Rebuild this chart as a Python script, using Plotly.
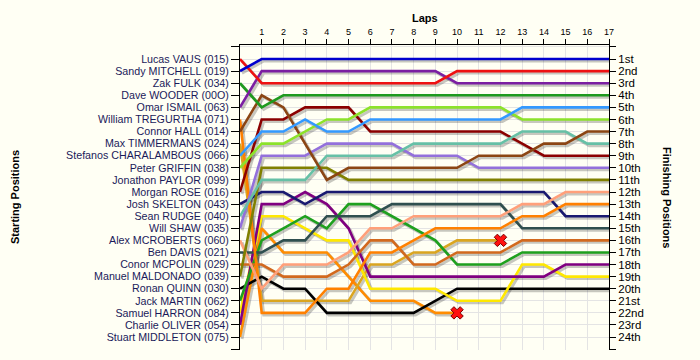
import plotly.graph_objects as go

laps = list(range(0, 18))

start_names = [
    "Lucas VAUS (015)", "Sandy MITCHELL (019)", "Zak FULK (034)", "Dave WOODER (00O)",
    "Omar ISMAIL (063)", "William TREGURTHA (071)", "Connor HALL (014)", "Max TIMMERMANS (024)",
    "Stefanos CHARALAMBOUS (066)", "Peter GRIFFIN (038)", "Jonathon PAYLOR (099)", "Morgan ROSE (016)",
    "Josh SKELTON (043)", "Sean RUDGE (040)", "Will SHAW (035)", "Alex MCROBERTS (060)",
    "Ben DAVIS (021)", "Conor MCPOLIN (029)", "Manuel MALDONADO (039)", "Ronan QUINN (030)",
    "Jack MARTIN (062)", "Samuel HARRON (084)", "Charlie OLIVER (054)", "Stuart MIDDLETON (075)",
]
finish_labels = [
    "1st", "2nd", "3rd", "4th", "5th", "6th", "7th", "8th", "9th", "10th", "11th", "12th",
    "13th", "14th", "15th", "16th", "17th", "18th", "19th", "20th", "21st", "22nd", "23rd", "24th",
]

# positions by lap (index = lap number)
vaus = [1, 3, 3, 3, 3, 3, 3, 3, 3, 3, 2, 2, 2, 2, 2, 2, 2, 2]
mitchell = [2, 1, 1, 1, 1, 1, 1, 1, 1, 1, 1, 1, 1, 1, 1, 1, 1, 1]
fulk = [3, 5, 4, 4, 4, 4, 4, 4, 4, 4, 4, 4, 4, 4, 4, 4, 4, 4]
wooder = [4]
ismail = [5, 2, 2, 2, 2, 2, 2, 2, 2, 2, 3, 3, 3, 3, 3, 3, 3, 3]
tregurtha = [6, 22, 22, 22, 20, 20, 17, 17, 16, 15, 15, 15, 15, 14, 14, 13, 13, 13]
hall = [7, 4, 5, 8, 11, 10, 10, 10, 10, 10, 10, 9, 9, 9, 8, 8, 7, 7]
timmermans = [8, 21, 21, 21, 21, 21, 18, 18, 17, 17, 16, 16, 16]
charalambous = [9, 7, 7, 6, 7, 7, 6, 6, 6, 6, 6, 6, 6, 5, 5, 5, 5, 5]
griffin = [10, 8, 8, 7, 6, 6, 5, 5, 5, 5, 5, 5, 5, 6, 6, 6, 6, 6]
paylor = [11]
rose = [12, 6, 6, 5, 5, 5, 7, 7, 7, 7, 7, 7, 7, 8, 9, 9, 9, 9]
skelton = [13, 12, 12, 13, 12, 12, 12, 12, 12, 12, 12, 12, 12, 12, 12, 14, 14, 14]
rudge = [14, 11, 11, 11, 9, 9, 9, 9, 8, 8, 8, 8, 8, 7, 7, 7, 8, 8]
shaw = [15, 9, 9, 9, 8, 8, 8, 8, 9, 9, 9, 10, 10, 10, 10, 10, 10, 10]
mcroberts = [16, 20, 18, 18, 18, 17, 15, 15, 14, 14, 14, 14, 14, 13, 13, 12, 12, 12]
davis = [17, 17, 16, 16, 14, 14, 14, 13, 13, 13, 13, 13, 13, 15, 15, 15, 15, 15]
mcpolin = [18, 18, 19, 19, 19, 18, 16, 16, 18, 18, 17, 17, 17, 16, 16, 16, 16, 16]
maldonado = [19, 10, 10, 10, 10, 11, 11, 11, 11, 11, 11, 11, 11, 11, 11, 11, 11, 11]
quinn = [20, 19, 20, 20, 22, 22, 22, 22, 22, 21, 20, 20, 20, 20, 20, 20, 20, 20]
martin = [21, 16, 15, 14, 15, 13, 13, 14, 15, 16, 18, 18, 18, 17, 17, 17, 17, 17]
harron = [22, 14, 14, 15, 16, 16, 20, 20, 20, 20, 21, 21, 21, 18, 18, 19, 19, 19]
oliver = [23, 13, 13, 12, 13, 15, 19, 19, 19, 19, 19, 19, 19, 19, 19, 18, 18, 18]
middleton = [24, 15, 17, 17, 17, 19, 21, 21, 21, 22, 22]

retired = ["Max TIMMERMANS (024)", "Stuart MIDDLETON (075)"]

drivers = [
    ("Stuart MIDDLETON (075)", middleton, "#FF8C00"),
    ("Max TIMMERMANS (024)", timmermans, "#DAA520"),
    ("Dave WOODER (00O)", wooder, "#999999"),
    ("Jonathon PAYLOR (099)", paylor, "#999999"),
    ("Ronan QUINN (030)", quinn, "#000000"),
    ("Samuel HARRON (084)", harron, "#FFE800"),
    ("Charlie OLIVER (054)", oliver, "#800080"),
    ("Jack MARTIN (062)", martin, "#1EA01E"),
    ("Conor MCPOLIN (029)", mcpolin, "#D2691E"),
    ("Ben DAVIS (021)", davis, "#2F4F4F"),
    ("Josh SKELTON (043)", skelton, "#191970"),
    ("William TREGURTHA (071)", tregurtha, "#FF8000"),
    ("Alex MCROBERTS (060)", mcroberts, "#FFA07A"),
    ("Manuel MALDONADO (039)", maldonado, "#808000"),
    ("Will SHAW (035)", shaw, "#9370DB"),
    ("Morgan ROSE (016)", rose, "#8B0000"),
    ("Sean RUDGE (040)", rudge, "#66C0A6"),
    ("Connor HALL (014)", hall, "#8B4513"),
    ("Peter GRIFFIN (038)", griffin, "#8CE22A"),
    ("Stefanos CHARALAMBOUS (066)", charalambous, "#3399FF"),
    ("Zak FULK (034)", fulk, "#1E9A1E"),
    ("Omar ISMAIL (063)", ismail, "#7B1FA2"),
    ("Lucas VAUS (015)", vaus, "#EE1111"),
    ("Sandy MITCHELL (019)", mitchell, "#0000CD"),
]

W, H = 700, 360
ML, MR, MT, MB = 240, 91, 45, 10
pw = W - ML - MR
ph = H - MT - MB
xr = [0, 17]
yr = [25.07, -0.16]
sx = (xr[1] - xr[0]) / pw * 2.0
sy = (yr[0] - yr[1]) / ph * 2.0
bg = "#FFFFF4"
font = "Liberation Sans"

fig = go.Figure()

# shadows on base axes (shifted 2px right/down)
for name, pos, col in drivers:
    fig.add_trace(go.Scatter(x=laps[:len(pos)], y=pos, mode="lines", xaxis="x", yaxis="y",
                             line=dict(color="rgba(0,0,0,0.22)", width=3), hoverinfo="skip",
                             showlegend=False))
# main lines
for name, pos, col in drivers:
    fig.add_trace(go.Scatter(x=laps[:len(pos)], y=pos, mode="lines", xaxis="x2", yaxis="y3",
                             line=dict(color=col, width=2.6), name=name, showlegend=False))
# retirement markers
rx, ry = [], []
for name, pos, col in drivers:
    if name in retired:
        rx.append(laps[len(pos) - 1])
        ry.append(pos[-1])
fig.add_trace(go.Scatter(x=rx, y=ry, mode="markers", xaxis="x2", yaxis="y3",
                         marker=dict(symbol="x", size=11, color="#FF1010",
                                     line=dict(color="#7a0000", width=1)),
                         showlegend=False, hoverinfo="skip"))
# dummy trace for right axis
fig.add_trace(go.Scatter(x=[None], y=[None], xaxis="x2", yaxis="y2", showlegend=False))

tick_all = list(range(0, 26))
fig.update_layout(
    width=W, height=H,
    margin=dict(l=ML, r=MR, t=MT, b=MB, autoexpand=False),
    paper_bgcolor=bg, plot_bgcolor=bg,
    font=dict(family=font, size=11, color="#000000"),
    hovermode=False,
    xaxis=dict(range=[xr[0] - sx, xr[1] - sx], visible=False, showgrid=False, fixedrange=True,
               automargin=False),
    yaxis=dict(range=[yr[0] - sy, yr[1] - sy], visible=False, showgrid=False, fixedrange=True,
               automargin=False),
    xaxis2=dict(range=xr, overlaying="x", side="top", anchor="y3", automargin=False,
                tickvals=list(range(1, 18)), ticktext=[str(i) for i in range(1, 18)],
                tickfont=dict(size=9, family=font, color="#000000"),
                ticks="outside", ticklen=5, tickcolor="#000000",
                showline=True, linecolor="#000000", linewidth=1,
                showgrid=True, gridcolor="#E4E4E4", gridwidth=1, zeroline=False),
    yaxis3=dict(range=yr, overlaying="y", side="left", anchor="x2", automargin=False,
                tickvals=tick_all, ticktext=[""] + start_names + [""],
                tickfont=dict(size=10.7, family=font, color="#1a1a5a"),
                ticks="outside", ticklen=8, tickcolor="#000000",
                showline=True, linecolor="#000000", linewidth=1,
                showgrid=True, gridcolor="#E4E4E4", gridwidth=1, zeroline=False),
    yaxis2=dict(range=yr, overlaying="y", side="right", anchor="x2", automargin=False,
                tickvals=tick_all, ticktext=[""] + finish_labels + [""],
                tickfont=dict(size=11.5, family=font, color="#000000"),
                ticks="outside", ticklen=6, tickcolor="#000000",
                showline=True, linecolor="#000000", linewidth=1,
                showgrid=False, zeroline=False),
    annotations=[
        dict(text="<b>Laps</b>", x=0.5 * (ML + ML + pw) / W, y=1 - 18 / H, xref="paper", yref="paper",
             showarrow=False, font=dict(size=11, family=font), xanchor="center", yanchor="middle"),
        dict(text="<b>Starting Positions</b>", x=15 / W, y=1 - 197 / H, xref="paper", yref="paper",
             showarrow=False, textangle=-90, font=dict(size=11, family=font),
             xanchor="center", yanchor="middle"),
        dict(text="<b>Finishing Positions</b>", x=667 / W, y=1 - 197 / H, xref="paper", yref="paper",
             showarrow=False, textangle=90, font=dict(size=11, family=font),
             xanchor="center", yanchor="middle"),
    ],
)
# convert annotation pixel positions to paper coords relative to plot area
for a in fig.layout.annotations:
    px_x = a.x * W
    px_y = (1 - a.y) * H
    a.x = (px_x - ML) / pw
    a.y = 1 - (px_y - MT) / ph

fig.write_html(
    "out.html",
    config={"displayModeBar": False, "staticPlot": True},
    post_script="document.body.style.margin='0px';document.body.style.background='" + bg + "';",
)
